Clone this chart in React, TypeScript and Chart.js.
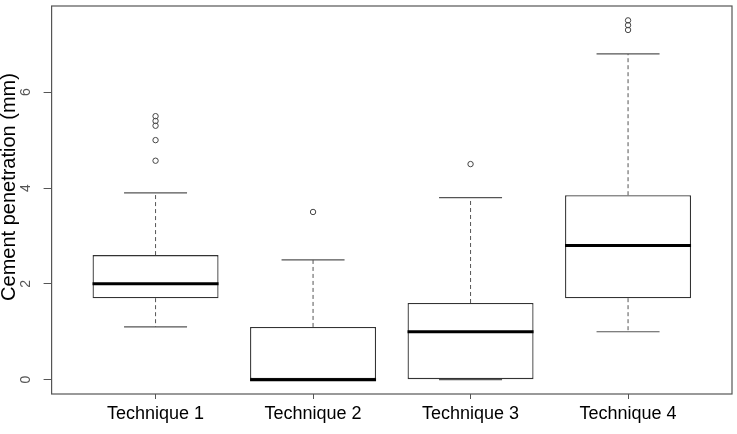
import React, { useEffect, useRef } from "react";
import { Chart, registerables } from "chart.js";

Chart.register(...registerables);

const categories = ["Technique 1", "Technique 2", "Technique 3", "Technique 4"];
const q1 = [1.7, 0, 0, 1.7];
const medians = [2.0, 0, 1.0, 2.8];
const q3 = [2.6, 1.1, 1.6, 3.85];
const whiskerLow = [1.1, 0, 0, 1.0];
const whiskerHigh = [3.9, 2.5, 3.8, 6.8];
const outliers = [
  [4.57, 5.0, 5.3, 5.4, 5.5],
  [3.5],
  [4.5],
  [7.3, 7.4, 7.5],
];
const yTicks = [0, 2, 4, 6];
const yTitle = "Cement penetration (mm)";

const FONT = "'Liberation Sans', Arial, sans-serif";

const boxPlugin = {
  id: "boxExtras",
  afterDatasetsDraw(chart: any) {
    const { ctx, chartArea, scales } = chart;
    const xs = scales.x;
    const ys = scales.y;
    ctx.save();
    categories.forEach((_, i) => {
      const xc = xs.getPixelForValue(i + 1);
      const capHalf = xs.getPixelForValue(i + 1.2) - xc;
      const boxHalf = xs.getPixelForValue(i + 1.4) - xc;
      ctx.strokeStyle = "#555";
      ctx.lineWidth = 1;
      ctx.setLineDash([4, 3]);
      if (whiskerHigh[i] > q3[i]) {
        ctx.beginPath();
        ctx.moveTo(xc, ys.getPixelForValue(q3[i]));
        ctx.lineTo(xc, ys.getPixelForValue(whiskerHigh[i]));
        ctx.stroke();
      }
      if (whiskerLow[i] < q1[i]) {
        ctx.beginPath();
        ctx.moveTo(xc, ys.getPixelForValue(q1[i]));
        ctx.lineTo(xc, ys.getPixelForValue(whiskerLow[i]));
        ctx.stroke();
      }
      ctx.setLineDash([]);
      ctx.lineWidth = 1.2;
      ctx.strokeStyle = "#555";
      [whiskerHigh[i], whiskerLow[i]].forEach((v) => {
        const y = ys.getPixelForValue(v);
        ctx.beginPath();
        ctx.moveTo(xc - capHalf, y);
        ctx.lineTo(xc + capHalf, y);
        ctx.stroke();
      });
      ctx.strokeStyle = "#000";
      ctx.lineWidth = 3;
      const ym = ys.getPixelForValue(medians[i]);
      ctx.beginPath();
      ctx.moveTo(xc - boxHalf, ym);
      ctx.lineTo(xc + boxHalf, ym);
      ctx.stroke();
    });
    ctx.strokeStyle = "#555";
    ctx.lineWidth = 1.2;
    ctx.strokeRect(chartArea.left, chartArea.top, chartArea.right - chartArea.left, chartArea.bottom - chartArea.top);
    ctx.translate(9, (chartArea.top + chartArea.bottom) / 2 - 13);
    ctx.rotate(-Math.PI / 2);
    ctx.fillStyle = "#000";
    ctx.font = `20px ${FONT}`;
    ctx.textAlign = "center";
    ctx.textBaseline = "middle";
    ctx.fillText(yTitle, 0, 0);
    ctx.restore();
  },
};

export default function App() {
  const ref = useRef<HTMLCanvasElement>(null);
  useEffect(() => {
    if (!ref.current) return;
    const outlierPoints: { x: number; y: number }[] = [];
    outliers.forEach((arr, i) => arr.forEach((v) => outlierPoints.push({ x: i + 1, y: v })));
    const chart = new Chart(ref.current, {
      type: "bar",
      data: {
        datasets: [
          {
            type: "bar",
            data: categories.map((_, i) => ({ x: i + 1, y: [q1[i], q3[i]] })) as any,
            backgroundColor: "#ffffff",
            borderColor: "#333",
            borderWidth: 1.3,
            borderSkipped: false,
            barPercentage: 0.8,
            categoryPercentage: 1,
          } as any,
          {
            type: "scatter",
            data: outlierPoints,
            pointRadius: 2.7,
            pointBorderWidth: 1,
            pointBorderColor: "#444",
            pointBackgroundColor: "rgba(255,255,255,0)",
            showLine: false,
          } as any,
        ],
      },
      options: {
        responsive: false,
        animation: false,
        events: [],
        layout: { padding: { left: 0, right: 4, top: 6, bottom: 0 } },
        plugins: { legend: { display: false }, tooltip: { enabled: false } },
        scales: {
          x: {
            type: "linear",
            offset: false,
            min: 0.34,
            max: 4.66,
            afterBuildTicks: (s: any) => {
              s.ticks = categories.map((_, i) => ({ value: i + 1 }));
            },
            afterFit: (s: any) => {
              s.height = 40;
              s.paddingLeft = 0;
              s.paddingRight = 0;
            },
            grid: { display: true, offset: false, drawOnChartArea: false, drawTicks: true, tickLength: 5, color: "#555" },
            border: { display: false },
            ticks: {
              callback: (v: any) => categories[Math.round(Number(v)) - 1] ?? "",
              color: "#000",
              font: { family: FONT, size: 18 },
              padding: 4,
              maxRotation: 0,
              minRotation: 0,
              autoSkip: false,
            },
          },
          y: {
            type: "linear",
            min: -0.3,
            max: 7.8,
            afterBuildTicks: (s: any) => {
              s.ticks = yTicks.map((v) => ({ value: v }));
            },
            afterFit: (s: any) => {
              s.width = 51.6;
              s.paddingTop = 0;
              s.paddingBottom = 0;
            },
            grid: { display: true, offset: false, drawOnChartArea: false, drawTicks: true, tickLength: 8, color: "#555" },
            border: { display: false },
            ticks: {
              color: "#555",
              font: { family: FONT, size: 14 },
              minRotation: 90,
              maxRotation: 90,
              crossAlign: "center",
              padding: 14,
            },
          },
        },
      },
      plugins: [boxPlugin],
    } as any);
    return () => chart.destroy();
  }, []);
  return (
    <div style={{ position: "absolute", left: 0, top: 0, width: 737, height: 434, background: "#fff" }}>
      <canvas ref={ref} width={737} height={434} />
    </div>
  );
}
